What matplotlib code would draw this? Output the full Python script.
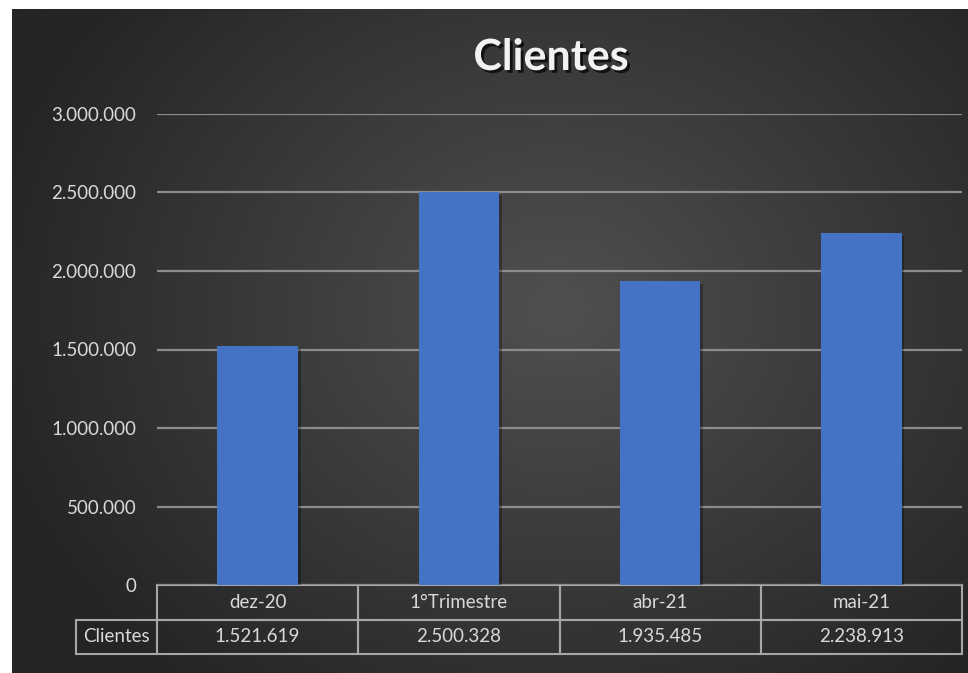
import numpy as np
import matplotlib
matplotlib.use("Agg")
import matplotlib.pyplot as plt
import matplotlib.patheffects as pe
from matplotlib.table import Table

categories = ["dez-20", "1°Trimestre", "abr-21", "mai-21"]
values = [1521619, 2500328, 1935485, 2238913]
series_name = "Clientes"
title = "Clientes"
yticks = [0, 500000, 1000000, 1500000, 2000000, 2500000, 3000000]

plt.rcParams['font.family'] = ['Lato', 'DejaVu Sans']

def fmt(v):
    return f"{v:,}".replace(",", ".")

W, H = 968, 673
fig = plt.figure(figsize=(W / 100, H / 100), dpi=100, facecolor="white")

# background with radial gradient
bg = fig.add_axes([12 / W, 0, 1 - 12 / W, 1 - 9 / H])
bg.set_axis_off()
ny, nx = 400, 560
yy, xx = np.mgrid[0:ny, 0:nx]
cx, cy = nx * 0.57, ny * 0.45
r = np.sqrt(((xx - cx) / (nx * 0.62)) ** 2 + ((yy - cy) / (ny * 0.75)) ** 2)
r = np.clip(r, 0, 1)
c_in, c_out = np.array([80, 80, 80]) / 255, np.array([36, 36, 36]) / 255
img = c_in[None, None, :] * (1 - r[..., None]) + c_out[None, None, :] * r[..., None]
bg.imshow(img, aspect="auto", extent=[0, 1, 0, 1], origin="upper")
bg.set_xlim(0, 1)
bg.set_ylim(0, 1)

# main axes
ax = fig.add_axes([157 / W, 1 - 585 / H, (962 - 157) / W, 471 / H])
ax.patch.set_alpha(0)
x = np.arange(len(categories))
bars = ax.bar(x, values, width=0.4, color="#4472C4", zorder=3)
for b in bars:
    b.set_path_effects([pe.SimplePatchShadow(offset=(2, -2), shadow_rgbFace="black", alpha=0.3), pe.Normal()])
ax.set_xlim(-0.5, len(categories) - 0.5)
ax.set_ylim(0, 3000000)
ax.set_yticks(yticks)
ax.set_yticklabels([fmt(v) for v in yticks])
ax.set_xticks([])
ax.tick_params(axis="y", length=0, pad=15, labelsize=13.5, labelcolor="#d9d9d9")
ax.yaxis.grid(True, color="#8c8c8c", linewidth=1.6, zorder=1)
ax.set_axisbelow(True)
for s in ax.spines.values():
    s.set_visible(False)

# data table
rh = 34.5 / 471
rlw = 81 / 805
edge = "#a6a6a6"
tab = Table(ax, bbox=[0, -2 * rh, 1, 2 * rh])
n = len(categories)
for j, cat in enumerate(categories):
    tab.add_cell(0, j, width=1 / n, height=rh, text=cat, loc="center", facecolor="none", edgecolor=edge)
    tab.add_cell(1, j, width=1 / n, height=rh, text=fmt(values[j]), loc="center", facecolor="none", edgecolor=edge)
tab.add_cell(1, -1, width=rlw, height=rh, text=series_name, loc="center", facecolor="none", edgecolor=edge)
tab.auto_set_font_size(False)
tab.set_fontsize(13.5)
for key, cell in tab.get_celld().items():
    cell.set_linewidth(1.5)
    cell.get_text().set_color("#d9d9d9")
ax.add_table(tab)

# title
fig.text(551 / W, 1 - 57 / H, title, ha="center", va="center", fontsize=31, fontweight="bold",
         color="#f2f2f2",
         path_effects=[pe.withSimplePatchShadow(offset=(2, -2), shadow_rgbFace="black", alpha=0.7)])

fig.savefig("out.png", dpi=100, facecolor="white")
